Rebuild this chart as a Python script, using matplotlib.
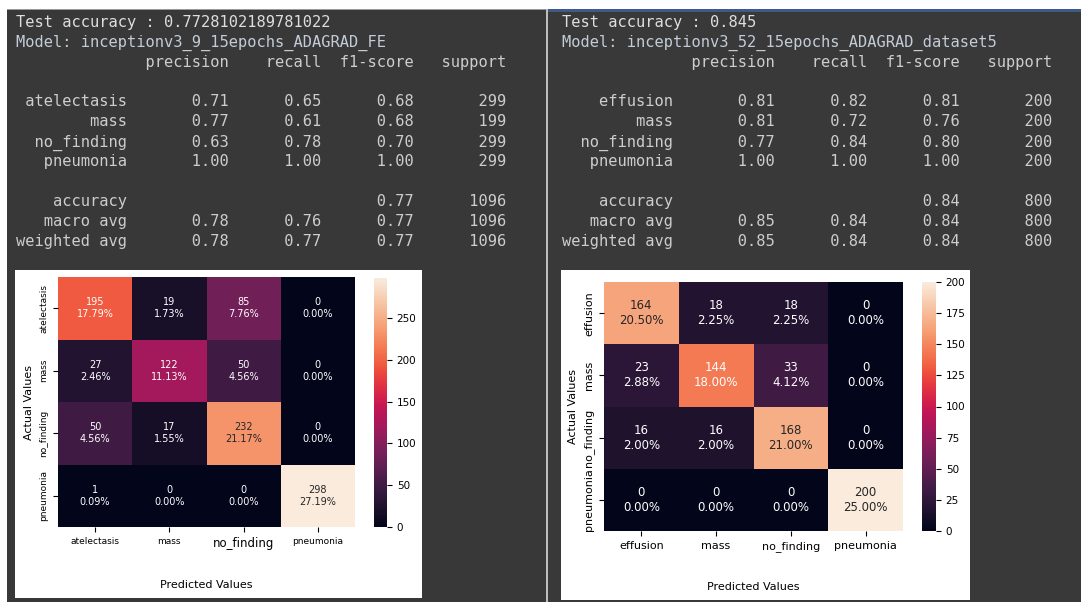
import numpy as np
import matplotlib.pyplot as plt
import matplotlib.patches as mpatches
import seaborn as sns

# run 1: inceptionv3_9 (FE set)
acc_a = 0.7728102189781022
model_a = "inceptionv3_9_15epochs_ADAGRAD_FE"
classes_a = ["atelectasis", "mass", "no_finding", "pneumonia"]
prec_a = [0.71, 0.77, 0.63, 1.00]
rec_a = [0.65, 0.61, 0.78, 1.00]
f1_a = [0.68, 0.68, 0.70, 1.00]
sup_a = [299, 199, 299, 299]
avg_a = {"accuracy": 0.77, "macro": (0.78, 0.76, 0.77), "weighted": (0.78, 0.77, 0.77)}
cm_a = [[195, 19, 85, 0],
        [27, 122, 50, 0],
        [50, 17, 232, 0],
        [1, 0, 0, 298]]

# run 2: inceptionv3_52 (dataset5)
acc_b = 0.845
model_b = "inceptionv3_52_15epochs_ADAGRAD_dataset5"
classes_b = ["effusion", "mass", "no_finding", "pneumonia"]
prec_b = [0.81, 0.81, 0.77, 1.00]
rec_b = [0.82, 0.72, 0.84, 1.00]
f1_b = [0.81, 0.76, 0.80, 1.00]
sup_b = [200, 200, 200, 200]
avg_b = {"accuracy": 0.84, "macro": (0.85, 0.84, 0.84), "weighted": (0.85, 0.84, 0.84)}
cm_b = [[164, 18, 18, 0],
        [23, 144, 33, 0],
        [16, 16, 168, 0],
        [0, 0, 0, 200]]

W, H = 1081, 602
fig = plt.figure(figsize=(W / 100, H / 100), dpi=100)
fig.patch.set_facecolor("white")


def px_box(x0, y0, x1, y1):
    # pixel box (from top-left) -> figure fraction rect
    return [x0 / W, 1 - y1 / H, (x1 - x0) / W, (y1 - y0) / H]


def rect(x0, y0, x1, y1, color):
    l, b, w, h = px_box(x0, y0, x1, y1)
    fig.add_artist(mpatches.Rectangle((l, b), w, h, transform=fig.transFigure,
                                      color=color, lw=0, zorder=0))


def report_lines(acc, model, classes, prec, rec, f1, sup, avg):
    total = sum(sup)
    lines = ["Test accuracy : " + str(acc), "Model: " + model]
    lines.append(" " * 12 + " " + "".join(" %9s" % h for h in ["precision", "recall", "f1-score", "support"]))
    lines.append("")
    for c, p, r, f, s in zip(classes, prec, rec, f1, sup):
        lines.append("%12s  %9.2f %9.2f %9.2f %9d" % (c, p, r, f, s))
    lines.append("")
    lines.append("%12s  %9s %9s %9.2f %9d" % ("accuracy", "", "", avg["accuracy"], total))
    lines.append("%12s  %9.2f %9.2f %9.2f %9d" % (("macro avg",) + avg["macro"] + (total,)))
    lines.append("%12s  %9.2f %9.2f %9.2f %9d" % (("weighted avg",) + avg["weighted"] + (total,)))
    return lines


def draw_report(x, lines):
    for i, ln in enumerate(lines):
        col = "#c3ccd6" if i == 1 else ("#dedede" if i == 0 else "#cdcdcd")
        fig.text(x / W, 1 - (26.5 + 20 * i) / H, ln, family="DejaVu Sans Mono",
                 fontsize=11.1, color=col, va="baseline", ha="left")


def draw_cm(cm, classes, hm_box, cb_box, fs_annot, fs_tick, big_tick=None):
    cm = np.array(cm)
    pct = cm / cm.sum() * 100
    labels = np.array(["%d\n%.2f%%" % (v, p) for v, p in zip(cm.flat, pct.flat)]).reshape(cm.shape)
    ax = fig.add_axes(px_box(*hm_box))
    cax = fig.add_axes(px_box(*cb_box))
    sns.heatmap(cm, annot=labels, fmt="", ax=ax, cbar_ax=cax,
                annot_kws={"fontsize": fs_annot})
    ax.set_xticklabels(classes, fontsize=fs_tick, rotation=0)
    ax.set_yticklabels(classes, fontsize=fs_tick, rotation=90, va="center")
    if big_tick is not None:
        ax.get_xticklabels()[big_tick].set_fontsize(8.5)
    ax.set_xlabel("Predicted Values", fontsize=8, labelpad=22)
    ax.set_ylabel("Actual Values", fontsize=8)
    cax.tick_params(labelsize=7.5)
    return ax


# panel backgrounds
rect(7, 9, 546, 602, "#383838")
rect(546, 9, 548, 602, "#bdbdbd")
rect(548, 9, 1081, 602, "#393939")
rect(548, 9, 1081, 12, "#3d5a88")
rect(7, 9, 546, 10, "#9a9a9a")

draw_report(16, report_lines(acc_a, model_a, classes_a, prec_a, rec_a, f1_a, sup_a, avg_a))
draw_report(562, report_lines(acc_b, model_b, classes_b, prec_b, rec_b, f1_b, sup_b, avg_b))

# white canvases under the heatmaps
rect(15, 270, 422, 598, "white")
rect(561, 270, 970, 600, "white")

draw_cm(cm_a, classes_a, (58, 277, 355, 527), (374, 278, 387, 527), 7, 6.5, big_tick=2)
draw_cm(cm_b, classes_b, (604, 282, 903, 531), (922, 282, 936, 531), 8.5, 8)

fig.savefig("out.png", dpi=100)
